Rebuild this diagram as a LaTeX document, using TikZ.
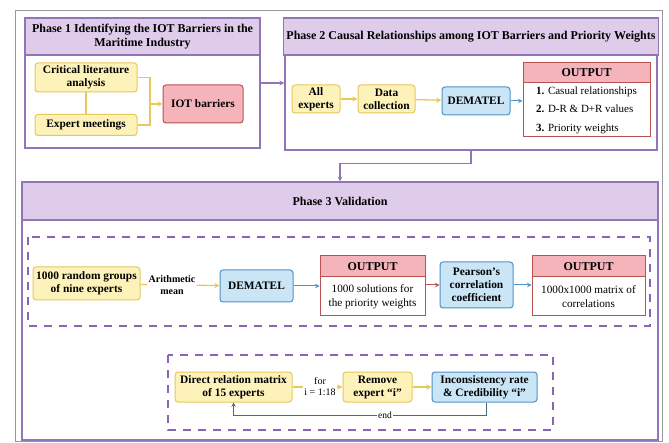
\documentclass[tikz,border=0pt]{standalone}
\usepackage{fontspec}
\setmainfont{Liberation Serif}
\definecolor{phline}{RGB}{146,116,184}
\definecolor{phfill}{RGB}{222,204,234}
\definecolor{yline}{RGB}{232,200,90}
\definecolor{yfill}{RGB}{252,242,186}
\definecolor{rline}{RGB}{186,82,82}
\definecolor{rfill}{RGB}{244,180,186}
\definecolor{bline}{RGB}{78,146,198}
\definecolor{bfill}{RGB}{202,230,246}
\definecolor{dline}{RGB}{138,100,182}
\definecolor{lline}{RGB}{62,110,128}
\begin{document}
\begin{tikzpicture}[>=stealth, x=1pt, y=-1pt,
    phase/.style={draw=phline, line width=1.1pt, fill=white},
    phead/.style={draw=phline, line width=1.1pt, fill=phfill, align=center,
        font=\fontsize{12}{14}\selectfont\bfseries},
    box/.style={rounded corners=3pt, line width=1pt, align=center, inner sep=1pt,
        font=\fontsize{11.4}{13}\selectfont\bfseries},
    ybox/.style={box, draw=yline, fill=yfill},
    rbox/.style={box, draw=rline, fill=rfill},
    bbox/.style={box, draw=bline, fill=bfill},
    outhead/.style={draw=rline, line width=1pt, fill=rfill, inner sep=1pt,
        font=\fontsize{12}{13}\selectfont\bfseries},
    outbody/.style={draw=rline, line width=1pt, fill=white, inner sep=1pt, align=center,
        font=\fontsize{11.2}{14}\selectfont},
    dbox/.style={draw=dline, line width=2.2pt, dash pattern=on 8pt off 7pt},
    small/.style={inner sep=1pt, align=center, font=\fontsize{10}{11}\selectfont},
    yarr/.style={draw=yline, line width=1.3pt},
    barr/.style={draw=bline, line width=1pt, ->},
    rarr/.style={draw=rline, line width=1pt, ->},
    parr/.style={draw=phline, line width=1.2pt, ->}]

\useasboundingbox (0,0) rectangle (669,443);
\draw[gray!80, line width=.8pt] (15,10) rectangle (662,441);

% phase 1
\node[phase, minimum width=235pt, minimum height=130pt] (p1) at (142.5,83) {};
\node[phead, minimum width=235pt, minimum height=37pt] (h1) at (142.5,36.5)
    {Phase 1 Identifying the IOT Barriers in the\\ Maritime Industry};
\node[ybox, minimum width=102pt, minimum height=29pt] (crit) at (86,77.5)
    {Critical literature\\ analysis};
\node[ybox, minimum width=102pt, minimum height=21pt] (meet) at (86,125) {Expert meetings};
\node[rbox, minimum width=80pt, minimum height=38pt] (iot) at (203,104) {IOT barriers};
\coordinate (j1) at (150,104);
\draw[yarr] (crit) -- (meet);
\draw[yarr] (crit) -| (j1);
\draw[yarr] (meet) -| (j1);
\draw[yarr, ->] (j1) -- (iot);

% phase 2
\node[phase, minimum width=372pt, minimum height=132pt] (p2) at (471,84) {};
\node[phead, minimum width=372pt, minimum height=37pt] (h2) at (471,36.5)
    {Phase 2 Causal Relationships among IOT Barriers and Priority Weights};
\node[ybox, minimum width=48pt, minimum height=28pt] (allx) at (316,99) {All\\ experts};
\node[ybox, minimum width=57pt, minimum height=28pt] (coll) at (386.5,99) {Data\\ collection};
\node[bbox, minimum width=68pt, minimum height=28pt] (dem1) at (476,101) {DEMATEL};
\node[outhead, minimum width=127pt, minimum height=20pt] (o1h) at (586.5,73) {OUTPUT};
\node[outbody, minimum width=127pt, minimum height=54pt, align=left,
    font=\fontsize{11}{18.5}\selectfont] (o1b) at (586.5,110)
    {\textbf{1.} Casual relationships\\ \textbf{2.} D-R \& D+R values\\ \textbf{3.} Priority weights};
\draw[yarr, ->] (allx) -- (coll);
\draw[yarr, ->] (coll) -- (dem1);
\draw[barr] (dem1) -- (dem1 -| o1b.west);
\draw[parr] (p1) -- (p1 -| p2.west);

% phase 3
\node[phase, minimum width=636pt, minimum height=258pt] (p3) at (340,311) {};
\node[phead, minimum width=636pt, minimum height=38pt] (h3) at (340,201) {Phase 3 Validation};
\draw[parr] (p2.south) -- ++(0,13) -| (p3.north);
\draw[dbox] (28,237) rectangle (650,326);
\draw[dbox] (168,355) rectangle (553,430);

\node[ybox, minimum width=107pt, minimum height=33pt] (rand) at (86.5,283.5)
    {1000 random groups\\ of nine experts};
\node[small, font=\fontsize{10}{11.5}\selectfont\bfseries] (arith) at (172,285) {Arithmetic\\ mean};
\node[bbox, minimum width=73pt, minimum height=32pt] (dem2) at (256.5,286) {DEMATEL};
\node[outhead, minimum width=105pt, minimum height=21pt] (o2h) at (372.5,266.5) {OUTPUT};
\node[outbody, minimum width=105pt, minimum height=39pt] (o2b) at (372.5,296.5)
    {1000 solutions for\\ the priority weights};
\node[bbox, minimum width=73pt, minimum height=46pt] (pear) at (476.5,285)
    {Pearson's\\ correlation\\ coefficient};
\node[outhead, minimum width=113pt, minimum height=21pt] (o3h) at (588.5,266.5) {OUTPUT};
\node[outbody, minimum width=113pt, minimum height=39pt] (o3b) at (588.5,296.5)
    {1000x1000 matrix of\\ correlations};
\draw[yarr] (rand) -- (arith);
\draw[yarr, ->] (arith) -- (dem2);
\draw[barr] (dem2) -- (dem2 -| o2b.west);
\draw[rarr] (pear -| o2b.east) -- (pear);
\draw[barr] (pear) -- (pear -| o3b.west);

\node[ybox, minimum width=117pt, minimum height=30pt] (direct) at (233.5,387)
    {Direct relation matrix\\ of 15 experts};
\node[small] (fori) at (320,387) {for\\ i = 1:18};
\node[ybox, minimum width=69pt, minimum height=30pt] (remove) at (377.5,387)
    {Remove\\ expert ``i''};
\node[bbox, minimum width=105pt, minimum height=30pt] (incon) at (484.5,387)
    {Inconsistency rate\\ \& Credibility ``i''};
\coordinate (lp) at (486,415);
\draw[yarr] (direct) -- (fori);
\draw[yarr, ->] (fori) -- (remove);
\draw[yarr, ->] (remove) -- (incon);
\draw[draw=lline, line width=.9pt, ->] (incon.south -| lp) -- (lp)
    -| node[pos=.2, fill=white, inner sep=1pt, font=\fontsize{9.5}{10}\selectfont]{end} (direct.south);

\end{tikzpicture}
\end{document}
